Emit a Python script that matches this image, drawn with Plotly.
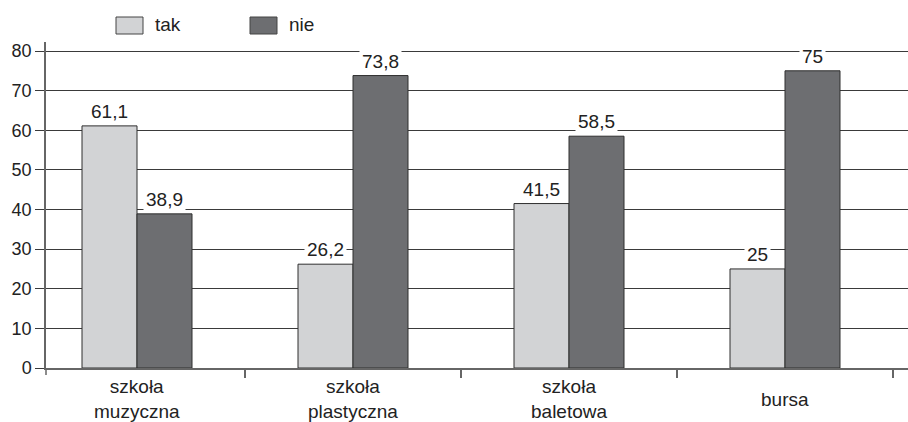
import plotly.graph_objects as go

# Survey results (percent), Polish labels
categories = ["szkoła<br>muzyczna", "szkoła<br>plastyczna", "szkoła<br>baletowa", "bursa"]
series_names = ["tak", "nie"]
tak_values = [61.1, 26.2, 41.5, 25]
nie_values = [38.9, 73.8, 58.5, 75]
y_ticks = [0, 10, 20, 30, 40, 50, 60, 70, 80]

TAK_COLOR = "#d2d3d5"
NIE_COLOR = "#6d6e71"
EDGE = "#2e2e2e"
FONT = "Liberation Sans, Arial, sans-serif"

W, H = 908, 422
M_L, M_R, M_T, M_B = 46, 0, 42, 54
PLOT_W = W - M_L - M_R
PLOT_H = H - M_T - M_B

BAR_W = 0.2546  # bar width in category units
X_RANGE = [-0.4213, 3.5694]
Y_RANGE = [0, 82.27]


def fmt(v):
    s = f"{v:g}"
    return s.replace(".", ",")


def px_x(px):
    return (px - M_L) / PLOT_W


def px_y(py):
    return 1 - (py - M_T) / PLOT_H


fig = go.Figure()
fig.add_trace(go.Bar(
    x=categories, y=tak_values, name=series_names[0],
    offset=-BAR_W, width=BAR_W,
    marker=dict(color=TAK_COLOR, line=dict(color=EDGE, width=1)),
    showlegend=False,
))
fig.add_trace(go.Bar(
    x=categories, y=nie_values, name=series_names[1],
    offset=0, width=BAR_W,
    marker=dict(color=NIE_COLOR, line=dict(color=EDGE, width=1)),
    showlegend=False,
))

annotations = []
# value labels with white backing that breaks the gridlines
for i, (t, n) in enumerate(zip(tak_values, nie_values)):
    for val, dx in ((t, -BAR_W / 2), (n, BAR_W / 2)):
        annotations.append(dict(
            x=i + dx, y=val, xref="x", yref="y",
            text=fmt(val), showarrow=False,
            yanchor="bottom", xanchor="center",
            bgcolor="white", borderpad=2, yshift=1,
            font=dict(family=FONT, size=19, color="#222"),
        ))

# category labels, vertically centred under each group
for i, c in enumerate(categories):
    annotations.append(dict(
        x=i, y=0, xref="x", yref="paper",
        text=c, showarrow=False,
        xanchor="center", yanchor="middle", yshift=-31,
        font=dict(family=FONT, size=19, color="#222"),
    ))

# legend
shapes = []
legend_items = [(series_names[0], TAK_COLOR, 116, 153), (series_names[1], NIE_COLOR, 250, 287)]
for name, color, bx, tx in legend_items:
    shapes.append(dict(
        type="rect", xref="paper", yref="paper",
        x0=px_x(bx), x1=px_x(bx + 27), y0=px_y(34), y1=px_y(17),
        fillcolor=color, line=dict(color="#444", width=1),
    ))
    annotations.append(dict(
        x=px_x(tx), y=px_y(24), xref="paper", yref="paper",
        text=name, showarrow=False, xanchor="left", yanchor="middle",
        font=dict(family=FONT, size=19, color="#222"),
    ))

# y-axis line running slightly past the baseline
shapes.append(dict(
    type="line", xref="paper", yref="paper", ysizemode="pixel", yanchor=0,
    x0=0, x1=0, y0=0, y1=-7, line=dict(color="#666", width=1.5),
))

fig.update_layout(
    width=W, height=H,
    margin=dict(l=M_L, r=M_R, t=M_T, b=M_B),
    paper_bgcolor="white", plot_bgcolor="white",
    barmode="overlay",
    annotations=annotations, shapes=shapes,
    font=dict(family=FONT, color="#222"),
    xaxis=dict(
        type="category", range=X_RANGE,
        showticklabels=False, showgrid=False, zeroline=False,
        showline=True, linecolor="#666", linewidth=1.5,
        ticks="outside", tickson="boundaries", ticklen=8,
        tickcolor="#666", tickwidth=1.5,
    ),
    yaxis=dict(
        range=Y_RANGE, tickvals=y_ticks,
        ticktext=[str(v) for v in y_ticks],
        showgrid=True, gridcolor="#3a3a3a", gridwidth=1,
        zeroline=False,
        showline=True, linecolor="#666", linewidth=1.5,
        ticks="outside", ticklen=9, tickcolor="#3a3a3a", tickwidth=1,
        tickfont=dict(family=FONT, size=18, color="#222"),
    ),
)

fig.write_html("out.html")
